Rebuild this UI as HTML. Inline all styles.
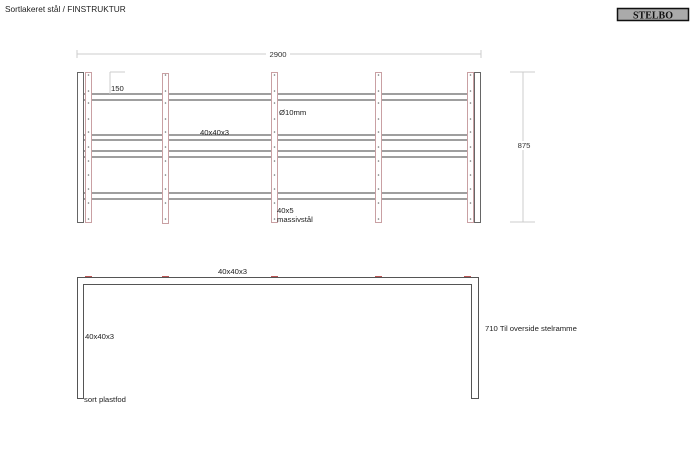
<!DOCTYPE html>
<html><head><meta charset="utf-8"><style>
html,body{margin:0;padding:0;background:#fff;}
svg{display:block;font-family:"Liberation Sans",sans-serif;}
</style></head><body>
<svg width="700" height="464" viewBox="0 0 700 464" xmlns="http://www.w3.org/2000/svg">
<text x="5" y="12" font-size="8.3" fill="#222">Sortlakeret stål  / FINSTRUKTUR</text>
<rect x="617.5" y="8.5" width="71" height="12" fill="#aaa" stroke="#111" stroke-width="1.5"/>
<text x="653" y="18.5" font-size="10" font-weight="bold" fill="#111" text-anchor="middle" font-family="Liberation Serif,serif">STELBO</text>
<line x1="77" y1="54" x2="481" y2="54" stroke="#ccc"/>
<line x1="77" y1="50" x2="77" y2="58" stroke="#ccc"/>
<line x1="481" y1="50" x2="481" y2="58" stroke="#ccc"/>
<rect x="266" y="50" width="24" height="8" fill="#fff"/>
<text x="278" y="57" font-size="7.7" fill="#333" text-anchor="middle">2900</text>
<g stroke="#666" stroke-width="1.2">
<line x1="83" y1="94" x2="474" y2="94"/><line x1="83" y1="100" x2="474" y2="100"/>
<line x1="83" y1="135" x2="474" y2="135"/><line x1="83" y1="140" x2="474" y2="140"/>
<line x1="83" y1="151" x2="474" y2="151"/><line x1="83" y1="157" x2="474" y2="157"/>
<line x1="83" y1="193" x2="474" y2="193"/><line x1="83" y1="199" x2="474" y2="199"/>
</g>
<rect x="77.5" y="72.5" width="6" height="150" fill="#fff" stroke="#666"/>
<rect x="474.5" y="72.5" width="6" height="150" fill="#fff" stroke="#666"/>
<g fill="#fff" stroke="#c9a0a3" stroke-width="1">
<rect x="85.5" y="72.5" width="6" height="150"/>
<rect x="162.5" y="73.5" width="6" height="150"/>
<rect x="271.5" y="72.5" width="6" height="150"/>
<rect x="375.5" y="72.5" width="6" height="150"/>
<rect x="467.5" y="72.5" width="6" height="150"/>
</g>
<g fill="#777" id="dots">
<circle cx="88.5" cy="75" r=".8"/><circle cx="88.5" cy="91" r=".8"/><circle cx="88.5" cy="103" r=".8"/><circle cx="88.5" cy="119" r=".8"/><circle cx="88.5" cy="132" r=".8"/><circle cx="88.5" cy="147" r=".8"/><circle cx="88.5" cy="161" r=".8"/><circle cx="88.5" cy="175" r=".8"/><circle cx="88.5" cy="189" r=".8"/><circle cx="88.5" cy="203" r=".8"/><circle cx="88.5" cy="219" r=".8"/>
</g>
<use href="#dots" x="77"/><use href="#dots" x="186"/><use href="#dots" x="290"/><use href="#dots" x="382"/>
<line x1="110" y1="72" x2="110" y2="94" stroke="#ccc"/>
<line x1="110" y1="72" x2="125" y2="72" stroke="#ccc"/>
<text x="111" y="91" font-size="7.7" fill="#222">150</text>
<text x="200" y="135" font-size="7.7" fill="#222">40x40x3</text>
<text x="279" y="115" font-size="7.7" fill="#222">Ø10mm</text>
<text x="277" y="213" font-size="7.7" fill="#222">40x5</text>
<text x="277" y="222" font-size="7.7" fill="#222">massivstål</text>
<line x1="523" y1="72" x2="523" y2="222" stroke="#ccc"/>
<line x1="510" y1="72" x2="535" y2="72" stroke="#ccc"/>
<line x1="510" y1="222" x2="535" y2="222" stroke="#ccc"/>
<rect x="516" y="141" width="15" height="9" fill="#fff"/>
<text x="524" y="148" font-size="7.7" fill="#333" text-anchor="middle">875</text>
<path d="M77.5 398.5 V277.5 H478.5 V398.5 H471.5 V284.5 H83.5 V398.5 Z" fill="#fff" stroke="#555" stroke-width="1"/>
<g stroke="#b55" stroke-width="1">
<line x1="85" y1="276.5" x2="92" y2="276.5"/><line x1="162" y1="276.5" x2="169" y2="276.5"/>
<line x1="271" y1="276.5" x2="278" y2="276.5"/><line x1="375" y1="276.5" x2="382" y2="276.5"/>
<line x1="464" y1="276.5" x2="471" y2="276.5"/>
</g>
<text x="218" y="274" font-size="7.7" fill="#222">40x40x3</text>
<text x="85" y="339" font-size="7.7" fill="#222">40x40x3</text>
<text x="84" y="402" font-size="7.7" fill="#222">sort plastfod</text>
<text x="485" y="331" font-size="7.7" fill="#222">710 Til overside stelramme</text>
</svg>
</body></html>
